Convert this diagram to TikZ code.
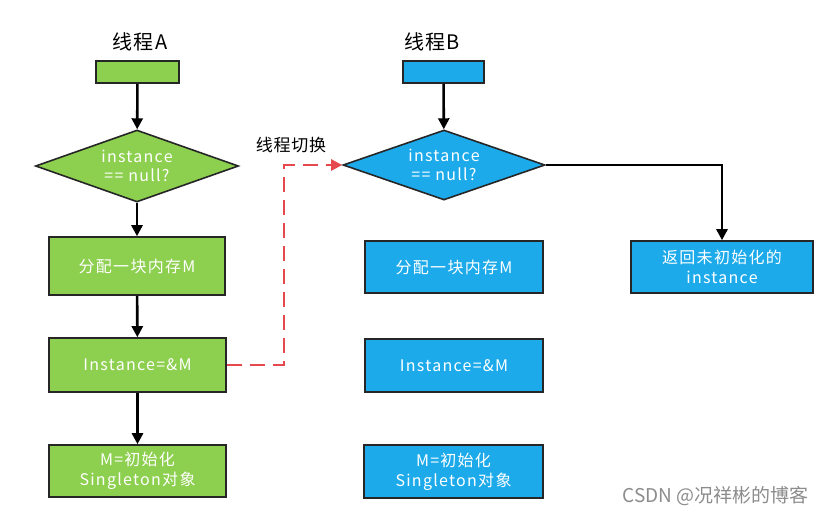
\documentclass[tikz,border=0pt]{standalone}
\usepackage{fontspec}
\setmainfont{Noto Sans CJK SC}
\usetikzlibrary{shapes.geometric,arrows.meta}
\definecolor{gfill}{HTML}{8DCF4E}
\definecolor{bfill}{HTML}{1CAAEB}
\definecolor{redd}{HTML}{E5484D}
\newcommand{\boxfont}{\fontsize{16}{20}\selectfont\addfontfeatures{LetterSpace=8}}
\tikzset{
  gbox/.style={draw=black!85,line width=1.6pt,fill=gfill,text=white,align=center,font=\boxfont,inner sep=0pt},
  bbox/.style={draw=black!85,line width=1.6pt,fill=bfill,text=white,align=center,font=\boxfont,inner sep=0pt},
  flow/.style={line width=2.6pt,-{Triangle[length=11pt,width=11pt]}},
  title/.style={font=\fontsize{20}{24}\selectfont\addfontfeatures{LetterSpace=6}}
}
\begin{document}
\begin{tikzpicture}[x=1pt,y=-1pt]
\useasboundingbox[fill=white] (0,0) rectangle (825,515);
% thread A
\node[title] (ta) at (140,42) {线程A};
\node[gbox,minimum width=83pt,minimum height=22pt] (sa) at (137.5,72) {};
\node[gbox,diamond,aspect=2.8,minimum width=203pt,minimum height=72pt] (da) at (137,166) {instance\\[-1pt]== null?};
\node[gbox,minimum width=176pt,minimum height=58pt] (a1) at (137,266) {分配一块内存M};
\node[gbox,minimum width=177pt,minimum height=54pt] (a2) at (137.5,365) {Instance=\&M};
\node[gbox,minimum width=177pt,minimum height=52pt] (a3) at (137.5,471) {M=初始化\\Singleton对象};
% thread B
\node[title] (tb) at (432,42) {线程B};
\node[bbox,minimum width=81pt,minimum height=22pt] (sb) at (443.5,72) {};
\node[bbox,diamond,aspect=2.8,minimum width=202pt,minimum height=70pt] (db) at (444,165) {instance\\[-1pt]== null?};
\node[bbox,minimum width=178pt,minimum height=52pt] (b1) at (454,267) {分配一块内存M};
\node[bbox,minimum width=178pt,minimum height=53pt] (b2) at (454,365.5) {Instance=\&M};
\node[bbox,minimum width=179pt,minimum height=53pt] (b3) at (453.5,471.5) {M=初始化\\Singleton对象};
\node[bbox,minimum width=182pt,minimum height=52pt] (r) at (722,267) {返回未初始化的\\instance};
% arrows
\draw[flow] (sa) -- (da);
\draw[flow] (da) -- (a1);
\draw[flow] (a1) -- (a2);
\draw[flow] (a2) -- (a3);
\draw[flow] (sb) -- (db);
\draw[flow] (db.east) -| (r.north);
% thread switch
\coordinate (sw) at (284,365);
\draw[redd,line width=2.4pt,dash pattern=on 15pt off 8pt,-{Triangle[length=11pt,width=11pt]}] (a2.east) -- (sw) |- (db.west);
\node[font=\fontsize{17}{20}\selectfont\addfontfeatures{LetterSpace=4}] (lbl) at (291,145) {线程切换};
\node[text=black!45,font=\fontsize{19}{22}\selectfont,anchor=east] (wm) at (812,496) {CSDN @况祥彬的博客};
\end{tikzpicture}
\end{document}
